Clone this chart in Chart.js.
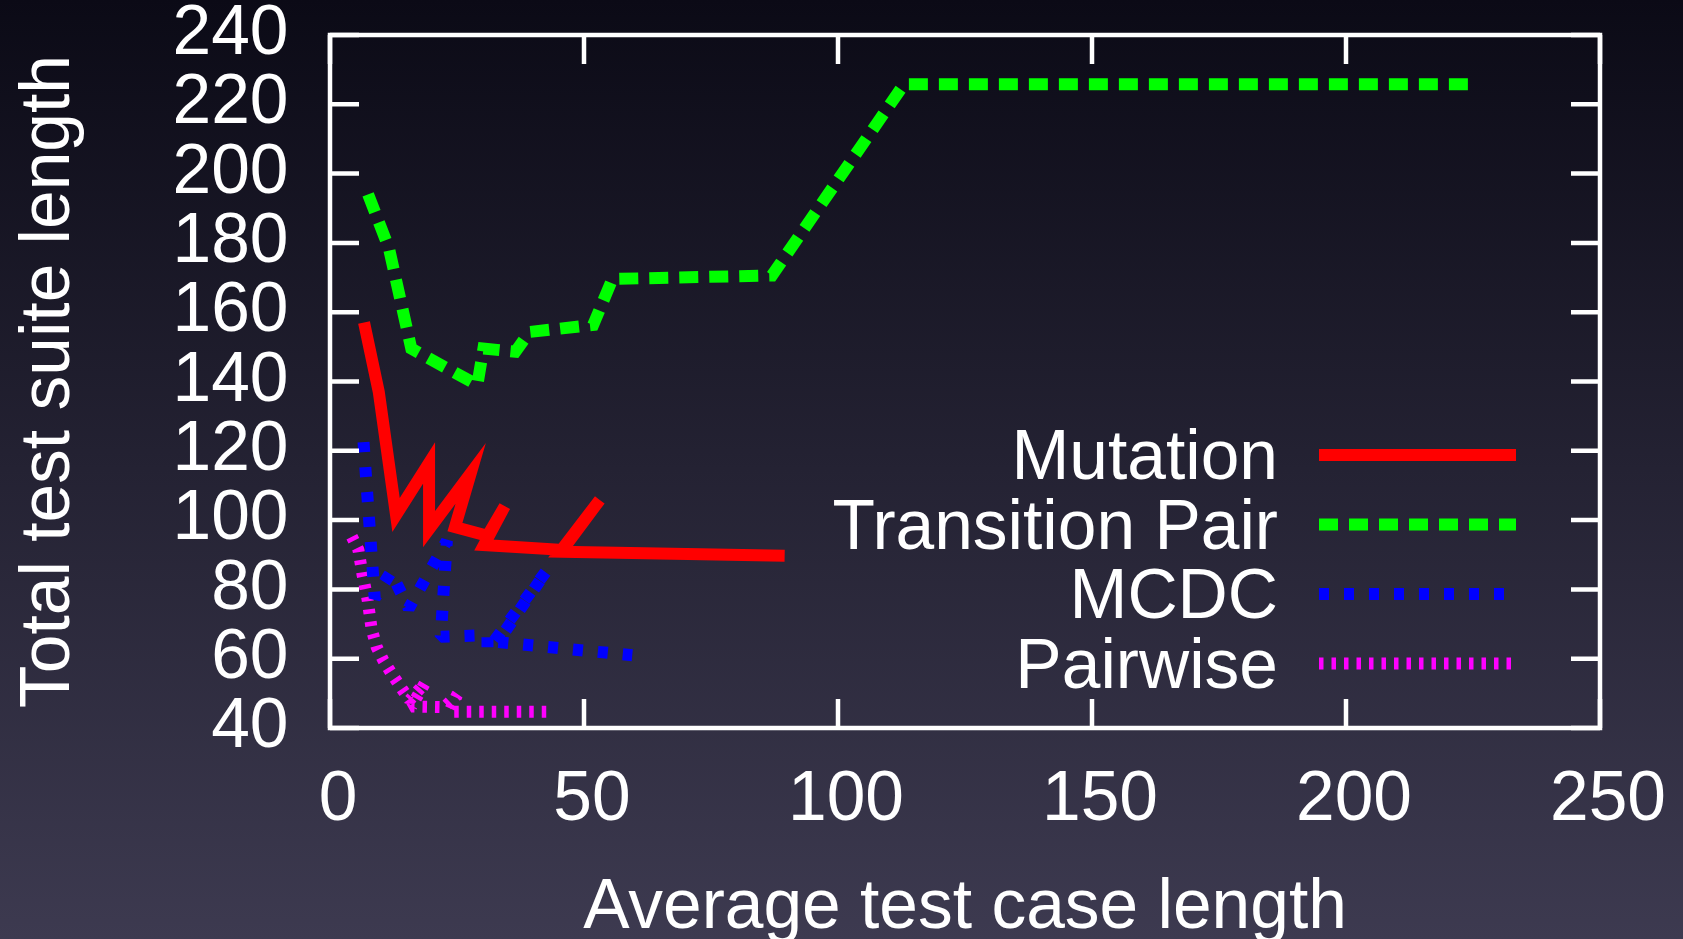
<!DOCTYPE html>
<html>
<head>
<meta charset="utf-8">
<script src="https://cdn.jsdelivr.net/npm/chart.js@4.4.1/dist/chart.umd.min.js"></script>
<style>
  html, body { margin: 0; padding: 0; }
  body {
    width: 1683px;
    height: 939px;
    overflow: hidden;
    background: linear-gradient(to bottom, #0b0a16 0%, #3d3a50 100%);
  }
  #wrap { position: relative; width: 1683px; height: 939px; }
</style>
</head>
<body>
<div id="wrap"><canvas id="chart"></canvas></div>
<script>
// values (average test case length / total test suite length)
const mutationX = [6.7, 9.6, 13.0, 19.5, 19.5, 27.7, 24.6, 31.0, 34.4, 30.3, 45.8, 53.1, 45.3, 89.5];
const mutationY = [157, 137, 101.5, 116.5, 97.4, 113.5, 98, 95.5, 104, 92.8, 91.4, 105.8, 90.9, 89.7];

const transitionX = [7.5, 11.6, 16.0, 29.0, 30.2, 36.5, 39.3, 51.8, 55.6, 87.0, 113, 225.5];
const transitionY = [194, 178.5, 149.5, 139, 149.5, 148.6, 154.3, 156.3, 169.6, 170.6, 225.8, 225.8];

const mcdcX = [6.6, 8.8, 12.0, 15.5, 23.0, 21.8, 31.0, 31.0, 42.7, 33.0, 59.5];
const mcdcY = [122.5, 77.5, 85, 74.5, 94, 66.3, 66.8, 62.5, 85.5, 64.8, 61];

const pairwiseX = [4.3, 5.6, 6.4, 7.4, 8.2, 9.2, 10.5, 12.2, 14.2, 15.7, 18.7, 16.0, 22.5, 25.0, 23.5, 43.5];
const pairwiseY = [95.2, 91.4, 84.3, 77.1, 68.5, 63.3, 59.5, 55.5, 51.2, 48.1, 53.0, 46.2, 46.0, 49.5, 44.7, 44.7];

const seriesNames = ['Mutation', 'Transition Pair', 'MCDC', 'Pairwise'];

const xTicks = { min: 0, max: 250, step: 50 };
const yTicks = { min: 40, max: 240, step: 20 };

function toPoints(xs, ys) {
    return xs.map((x, i) => ({ x, y: ys[i] }));
}

const FONT_SIZE = 69.5;

Chart.defaults.font.family = 'Liberation Sans';
Chart.defaults.font.size = FONT_SIZE;
Chart.defaults.color = '#ffffff';

const TICK_LEN = 29;

// frame with inward ticks on all four sides, plus the legend inside the plot
const framePlugin = {
    id: 'frame',
    afterDatasetsDraw(chart) {
        const { ctx, chartArea: a } = chart;
        const xs = chart.scales.x;
        const ys = chart.scales.y;

        ctx.save();
        ctx.strokeStyle = '#ffffff';
        ctx.lineWidth = 4.5;
        ctx.beginPath();
        xs.ticks.forEach(t => {
            const px = xs.getPixelForValue(t.value);
            ctx.moveTo(px, a.bottom);
            ctx.lineTo(px, a.bottom - TICK_LEN);
            ctx.moveTo(px, a.top);
            ctx.lineTo(px, a.top + TICK_LEN);
        });
        ys.ticks.forEach(t => {
            const py = ys.getPixelForValue(t.value);
            ctx.moveTo(a.left, py);
            ctx.lineTo(a.left + TICK_LEN, py);
            ctx.moveTo(a.right, py);
            ctx.lineTo(a.right - TICK_LEN, py);
        });
        ctx.stroke();
        ctx.strokeRect(a.left, a.top, a.right - a.left, a.bottom - a.top);

        // legend
        const textRight = 1278;
        const sampleLeft = 1319;
        const sampleRight = 1516;
        const firstRow = 455;
        const rowGap = 69.5;
        ctx.font = FONT_SIZE + 'px "Liberation Sans"';
        ctx.textAlign = 'right';
        ctx.textBaseline = 'alphabetic';
        chart.data.datasets.forEach((ds, i) => {
            const rowY = firstRow + i * rowGap;
            ctx.fillStyle = '#ffffff';
            ctx.fillText(ds.label, textRight, rowY + 24);
            ctx.strokeStyle = ds.borderColor;
            ctx.lineWidth = ds.borderWidth;
            ctx.lineCap = 'butt';
            ctx.setLineDash(ds.borderDash || []);
            ctx.beginPath();
            ctx.moveTo(sampleLeft, rowY);
            ctx.lineTo(sampleRight, rowY);
            ctx.stroke();
            ctx.setLineDash([]);
        });
        ctx.restore();
    }
};

function lineSet(label, xs, ys, color, dash, join) {
    return {
        label,
        data: toPoints(xs, ys),
        borderColor: color,
        backgroundColor: color,
        borderWidth: 12,
        borderDash: dash,
        borderCapStyle: 'butt',
        borderJoinStyle: join,
        pointRadius: 0,
        tension: 0,
        fill: false
    };
}

new Chart(
    document.getElementById('chart'),
    {
        type: 'line',
        data: {
            datasets: [
                lineSet(seriesNames[0], mutationX, mutationY, '#ff0000', [], 'miter'),
                lineSet(seriesNames[1], transitionX, transitionY, '#00ff00', [19, 11], 'miter'),
                lineSet(seriesNames[2], mcdcX, mcdcY, '#0000ff', [10, 15], 'bevel'),
                lineSet(seriesNames[3], pairwiseX, pairwiseY, '#ff00ff', [4.5, 8], 'bevel')
            ]
        },
        options: {
            responsive: true,
            maintainAspectRatio: false,
            animation: false,
            layout: {
                padding: { top: 35, right: 83, left: 0, bottom: 0 }
            },
            plugins: {
                legend: { display: false },
                tooltip: { enabled: false }
            },
            scales: {
                x: {
                    type: 'linear',
                    min: xTicks.min,
                    max: xTicks.max,
                    grid: { display: false },
                    border: { display: false },
                    ticks: {
                        stepSize: xTicks.step,
                        autoSkip: false,
                        padding: 30,
                        labelOffset: 8,
                        maxRotation: 0,
                        font: { size: FONT_SIZE, lineHeight: 1 }
                    },
                    title: {
                        display: true,
                        text: 'Average test case length',
                        font: { size: FONT_SIZE, lineHeight: 0.8 },
                        padding: { top: 0, bottom: 2.3 }
                    },
                    afterFit(scale) {
                        scale.height = 211;
                        scale.paddingLeft = 0;
                        scale.paddingRight = 0;
                    }
                },
                y: {
                    type: 'linear',
                    min: yTicks.min,
                    max: yTicks.max,
                    grid: { display: false },
                    border: { display: false },
                    ticks: {
                        stepSize: yTicks.step,
                        autoSkip: false,
                        padding: 33.5,
                        font: { size: FONT_SIZE, lineHeight: 1 }
                    },
                    title: {
                        display: true,
                        text: 'Total test suite length',
                        font: { size: FONT_SIZE, lineHeight: 1 },
                        padding: { top: 14.9, bottom: 0 }
                    },
                    afterFit(scale) {
                        scale.width = 330;
                        scale.paddingTop = 0;
                        scale.paddingBottom = 0;
                    }
                }
            }
        },
        plugins: [framePlugin]
    }
);
</script>
</body>
</html>
